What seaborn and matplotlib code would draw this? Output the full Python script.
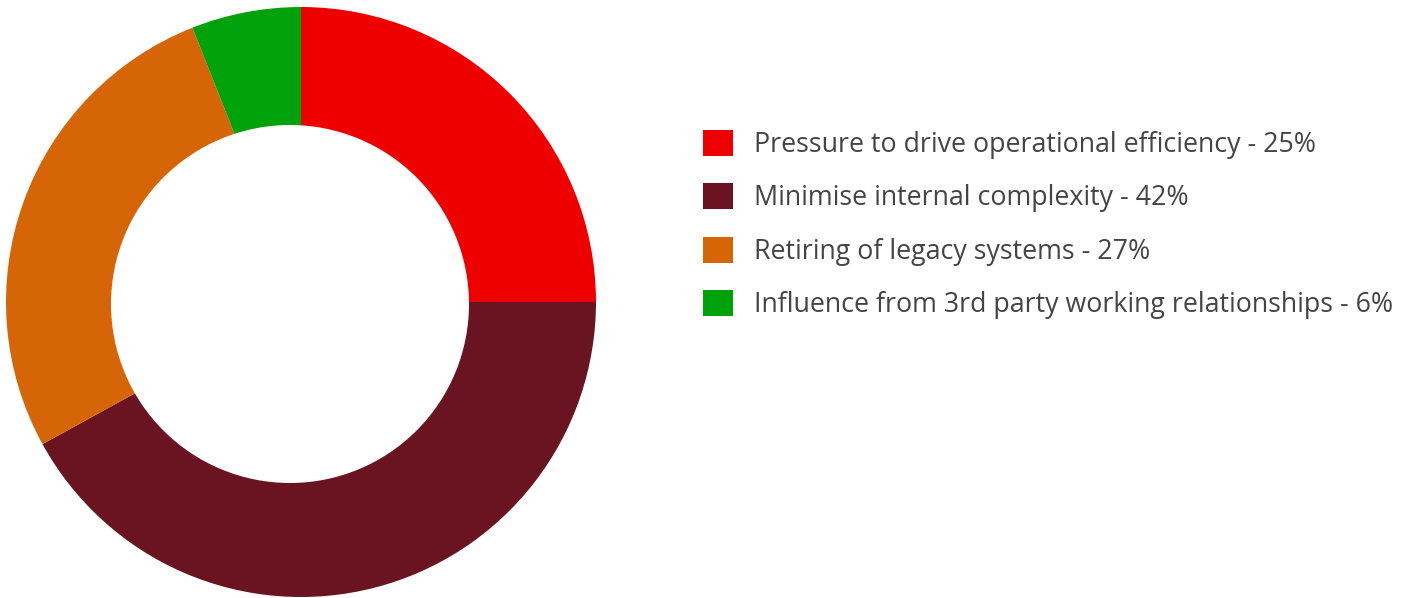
import matplotlib

matplotlib.use("Agg")
import matplotlib.pyplot as plt
from matplotlib.patches import Patch, Circle
import seaborn as sns

# Chart data
categories = [
    "Pressure to drive operational efficiency",
    "Minimise internal complexity",
    "Retiring of legacy systems",
    "Influence from 3rd party working relationships",
]
shares = [25, 42, 27, 6]
colors = ["#EE0000", "#691420", "#D66507", "#00A20B"]

sns.set_style("white")
plt.rcParams["font.family"] = ["Open Sans", "DejaVu Sans"]

W, H = 1416, 598
fig = plt.figure(figsize=(W / 100, H / 100), dpi=100)

# donut: outer centre at (301, 302) px, radius 295 px
cx, cy, r = 301, 302, 295
ax = fig.add_axes([(cx - r) / W, (H - cy - r) / H, 2 * r / W, 2 * r / H])
ax.pie(
    shares,
    colors=colors,
    startangle=90,
    counterclock=False,
    radius=1,
    wedgeprops=dict(edgecolor="none", antialiased=True),
)
# hole of the donut (slightly left of centre, as in the original)
ax.add_patch(Circle((-11 / r, -2 / r), 179 / r, facecolor="white", edgecolor="none"))
ax.set_xlim(-1, 1)
ax.set_ylim(-1, 1)
ax.set_aspect("equal")
ax.axis("off")

handles = [Patch(facecolor=c, edgecolor="none") for c in colors]
labels = [f"{c} - {s}%" for c, s in zip(categories, shares)]
leg = fig.legend(
    handles,
    labels,
    loc="upper left",
    bbox_to_anchor=(703 / W, 1 - 130 / H),
    frameon=False,
    fontsize=19.3,
    handlelength=1.12,
    handleheight=1.12,
    handletextpad=0.8,
    labelspacing=0.9,
    borderaxespad=0,
    borderpad=0,
)
for t in leg.get_texts():
    t.set_color("#444444")

fig.savefig("out.png", dpi=100)
